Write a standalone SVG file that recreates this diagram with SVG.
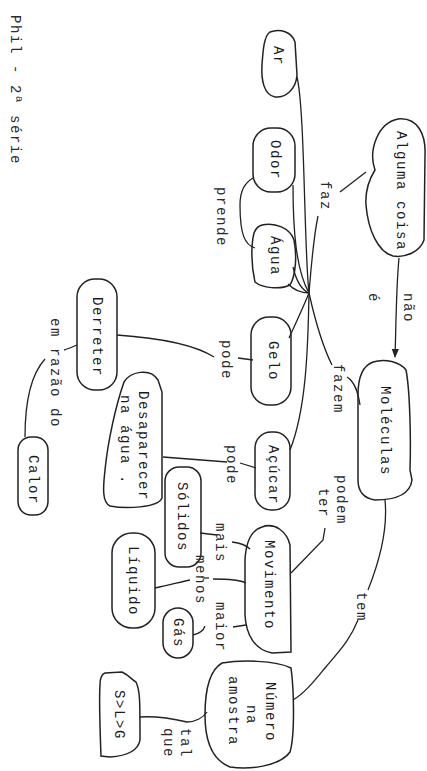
<svg xmlns="http://www.w3.org/2000/svg" width="427" height="771" viewBox="0 0 427 771">
<defs>
<style>
.n{fill:none;stroke:#222;stroke-width:1.5}
.c{fill:none;stroke:#222;stroke-width:1.3}
.t{font-family:"Liberation Mono","DejaVu Sans Mono",monospace;font-size:14px;fill:#1a1a1a;letter-spacing:1.6px;text-anchor:middle;dominant-baseline:central}
.l{font-family:"Liberation Mono","DejaVu Sans Mono",monospace;font-size:14px;fill:#2a2a2a;letter-spacing:1.6px;text-anchor:middle;dominant-baseline:central}
</style>
<marker id="ah" viewBox="0 0 10 10" refX="9" refY="5" markerWidth="7" markerHeight="7" orient="auto">
<path d="M0,1 L10,5 L0,9 z" fill="#222"/>
</marker>
</defs>
<rect width="427" height="771" fill="#fff"/>
<text class="l" transform="translate(15,90) rotate(90)">Phil - 2ª série</text>

<g id="connectors">
<path class="c" d="M366,172 L340,192"/>
<path class="c" d="M318,216 C313,240 311,270 309,293"/>
<path class="c" d="M309,293 C315,320 322,345 332,365"/>
<path class="c" d="M347,377 C355,382 358,392 360,405"/>
<path class="c" d="M399,258 C396,290 396,330 395,357" marker-end="url(#ah)"/>
<path class="c" d="M297,77 C305,110 304,250 309,293"/>
<path class="c" d="M293,185 C293,230 296,270 309,293"/>
<path class="c" d="M293,267 C296,280 302,290 309,293"/>
<path class="c" d="M288,284 C294,290 300,293 309,293"/>
<path class="c" d="M309,293 C302,310 295,325 289,338"/>
<path class="c" d="M309,293 C308,350 306,410 290,450"/>
<path class="c" d="M253,360 L238,358"/>
<path class="c" d="M214,357 C195,345 160,338 117,335"/>
<path class="c" d="M77,345 C72,347 68,349 64,350"/>
<path class="c" d="M45,359 C35,370 25,390 25,437"/>
<path class="c" d="M163,457 L227,462"/>
<path class="c" d="M240,463 L256,468"/>
<path class="c" d="M325,528 L323,540 L291,573"/>
<path class="c" d="M385,500 C388,530 378,565 368,590"/>
<path class="c" d="M358,620 C350,640 340,650 325,668 C315,680 305,693 293,700"/>
<path class="c" d="M200,533 L217,535"/>
<path class="c" d="M232,542 C240,543 247,546 250,549"/>
<path class="c" d="M155,588 C170,585 180,582 190,580"/>
<path class="c" d="M204,578 L209,578"/>
<path class="c" d="M213,579 C230,579 240,580 246,583"/>
<path class="c" d="M193,635 C198,634 203,632 205,626"/>
<path class="c" d="M233,627 L246,625"/>
<path class="c" d="M207,712 C203,718 195,722 187,722 C170,718 155,716 140,717"/>
<path class="c" d="M253,178 C245,183 240,190 240,205 C240,235 245,245 255,248"/>
</g>

<g id="ar"><path class="n" d="M270,32 C280,28 292,32 295,42 L297,75 C296,90 285,98 275,97 C264,95 261,80 262,65 C263,50 264,36 270,32 Z"/><text class="t" transform="translate(278,56) rotate(90)">Ar</text></g>
<g id="odor"><rect class="n" x="253" y="128" width="42" height="64" rx="18"/><text class="t" transform="translate(275,160) rotate(90)">Odor</text></g>
<g id="agua"><path class="n" d="M262,225 C275,222 290,228 294,240 C297,255 296,275 290,285 C280,290 262,288 255,282 C251,265 251,245 254,233 C256,228 258,226 262,225 Z"/><text class="t" transform="translate(275,256) rotate(90)">Água</text></g>
<g id="alguma"><path class="n" d="M375,170 C368,150 378,123 398,119 C418,117 426,135 425,155 L424,240 C420,252 405,258 393,256 C378,252 368,230 366,205 C365,190 370,178 375,170 Z"/><text class="t" transform="translate(401,191) rotate(90)">Alguma coisa</text></g>
<g id="gelo"><rect class="n" x="251" y="317" width="40" height="88" rx="18"/><text class="t" transform="translate(273,361) rotate(90)">Gelo</text></g>
<g id="moleculas"><path class="n" d="M373,362 C385,358 400,362 406,370 C410,390 411,440 410,470 L412,480 C410,495 395,500 375,500 C362,498 358,490 358,480 L358,395 C358,378 362,366 373,362 Z"/><text class="t" transform="translate(385,431) rotate(90)">Moléculas</text></g>
<g id="derreter"><rect class="n" x="77" y="279" width="40" height="111" rx="18"/><text class="t" transform="translate(97,337) rotate(90)">Derreter</text></g>
<g id="calor"><rect class="n" x="18" y="437" width="30" height="78" rx="13"/><text class="t" transform="translate(33,480) rotate(90)">Calor</text></g>
<g id="desaparecer"><path class="n" d="M124,382 C130,372 150,367 158,380 L162,392 L162,498 C158,508 125,509 110,506 C102,502 103,488 105,470 C108,440 116,405 124,382 Z"/><text class="t" transform="translate(143,446) rotate(90)">Desaparecer</text><text class="t" transform="translate(125,440) rotate(90)">na água .</text></g>
<g id="acucar"><rect class="n" x="255" y="432" width="35" height="78" rx="16"/><text class="t" transform="translate(273,475) rotate(90)">Açúcar</text></g>
<g id="solidos"><rect class="n" x="165" y="467" width="36" height="100" rx="14"/><text class="t" transform="translate(182,517) rotate(90)">Sólidos</text></g>
<g id="movimento"><path class="n" d="M262,527 C275,522 287,532 290,545 L291,652 L272,653 C255,650 246,635 245,615 L245,560 C246,540 252,530 262,527 Z"/><text class="t" transform="translate(269,585) rotate(90)">Movimento</text></g>
<g id="liquido"><rect class="n" x="112" y="533" width="43" height="95" rx="20"/><text class="t" transform="translate(133,581) rotate(90)">Líquido</text></g>
<g id="gas"><rect class="n" x="163" y="608" width="30" height="50" rx="15"/><text class="t" transform="translate(178,633) rotate(90)">Gás</text></g>
<g id="numero"><path class="n" d="M222,663 C240,660 275,660 291,668 C294,690 295,735 290,752 C280,766 250,770 230,767 C212,760 205,740 205,715 C205,690 210,670 222,663 Z"/><text class="t" transform="translate(270,712) rotate(90)">Número</text><text class="t" transform="translate(251,715) rotate(90)">na</text><text class="t" transform="translate(233,711) rotate(90)">amostra</text></g>
<g id="slg"><path class="n" d="M105,673 L122,672 C130,676 132,680 136,682 C140,690 140,700 140,740 C138,752 125,756 110,757 L101,756 C100,730 99,700 100,685 C100,678 102,674 105,673 Z"/><text class="t" transform="translate(119,715) rotate(90)">S&gt;L&gt;G</text></g>

<g id="labels">
<text class="l" transform="translate(325,196) rotate(90)">faz</text>
<text class="l" transform="translate(221,217) rotate(90)">prende</text>
<text class="l" transform="translate(408,308) rotate(90)">não</text>
<text class="l" transform="translate(373,298) rotate(90)">é</text>
<text class="l" transform="translate(338,389) rotate(90)">fazem</text>
<text class="l" transform="translate(226,360) rotate(90)">pode</text>
<text class="l" transform="translate(231,465) rotate(90)">pode</text>
<text class="l" transform="translate(341,500) rotate(90)">podem</text>
<text class="l" transform="translate(323,503) rotate(90)">ter</text>
<text class="l" transform="translate(361,607) rotate(90)">tem</text>
<text class="l" transform="translate(55,373) rotate(90)">em razão do</text>
<text class="l" transform="translate(220,543) rotate(90)">mais</text>
<text class="l" transform="translate(200,580) rotate(90)">menos</text>
<text class="l" transform="translate(220,627) rotate(90)">maior</text>
<text class="l" transform="translate(185,743) rotate(90)">tal</text>
<text class="l" transform="translate(168,743) rotate(90)">que</text>
</g>
</svg>
